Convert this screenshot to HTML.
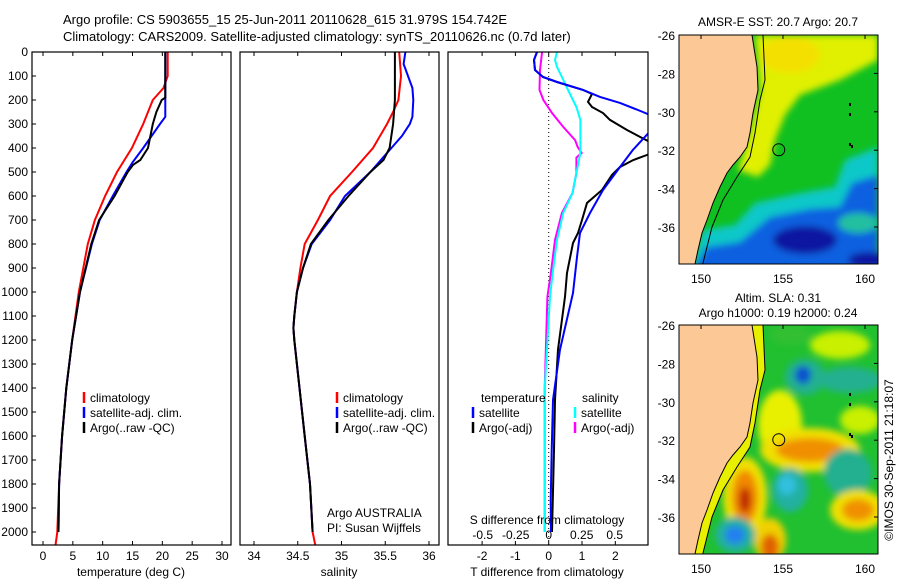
<!DOCTYPE html>
<html><head><meta charset="utf-8"><style>
html,body{margin:0;padding:0;background:#fff;width:900px;height:580px;overflow:hidden}
svg text{font-family:"Liberation Sans",sans-serif;font-size:12px;fill:#000}
</style></head><body>
<svg id="chart" width="900" height="580" viewBox="0 0 900 580" xmlns="http://www.w3.org/2000/svg">
<defs>
<clipPath id="c1"><rect x="32" y="52" width="199" height="493"/></clipPath>
<clipPath id="c2"><rect x="240" y="52" width="199" height="493"/></clipPath>
<clipPath id="c3"><rect x="448" y="52" width="200" height="493"/></clipPath>
<clipPath id="cm1"><rect x="679" y="35" width="199" height="229"/></clipPath>
<clipPath id="cm2"><rect x="679" y="325" width="199" height="229"/></clipPath>
<filter id="bl" x="-20%" y="-20%" width="140%" height="140%"><feGaussianBlur stdDeviation="3.5"/></filter>
</defs>
<text x="63" y="24" style="font-size:13px">Argo profile: CS 5903655_15 25-Jun-2011 20110628_615 31.979S 154.742E</text>
<text x="63" y="41" style="font-size:13px">Climatology: CARS2009. Satellite-adjusted climatology: synTS_20110626.nc (0.7d later)</text>
<g id="axes"></g>
<g id="maps"></g>
</svg>
<script>
// ---- data ----
const tClimDepth=[0,100,150,200,300,400,500,600,700,800,1000,1200,1400,1600,1800,2000,2055];
const tClim=[20.9,20.9,20.2,18.4,16.8,14.9,12.4,10.4,8.7,7.5,6.0,4.9,3.9,3.2,2.7,2.4,2.1];
const tSatDepth=[0,270,300,400,460,500,600,700,800,1000,1200,1400,1600,1800,2000];
const tSat=[20.5,20.5,19.6,16.8,15.0,14.0,11.7,9.5,8.2,6.2,4.9,3.9,3.2,2.7,2.6];
const tArgoDepth=[0,190,200,250,300,400,450,470,500,600,700,800,1000,1200,1400,1600,1800,2000];
const tArgo=[20.5,20.5,19.9,19.0,18.4,17.6,16.3,15.1,14.2,12.0,9.4,8.1,6.2,4.9,3.9,3.2,2.7,2.6];
const sClimDepth=[0,100,200,250,300,400,500,600,700,800,900,1000,1100,1150,1200,1400,1600,1800,2000,2055];
const sClim=[35.66,35.68,35.65,35.59,35.52,35.36,35.12,34.87,34.73,34.58,34.53,34.49,34.46,34.45,34.46,34.52,34.58,34.64,34.67,34.70];
const sSatDepth=[0,50,100,150,200,270,300,350,400,500,600,700,800,900,1000,1100,1150,1200,1400,1600,1800,2000];
const sSat=[35.73,35.71,35.76,35.81,35.82,35.81,35.78,35.69,35.57,35.33,35.04,34.87,34.66,34.56,34.49,34.46,34.45,34.46,34.52,34.58,34.64,34.67];
const sArgoDepth=[0,200,300,400,450,500,600,700,800,900,1000,1100,1150,1200,1400,1600,1800,2000];
const sArgo=[35.61,35.61,35.59,35.55,35.48,35.33,35.08,34.85,34.65,34.56,34.49,34.46,34.45,34.46,34.52,34.58,34.64,34.67];
const dTSatDepth=[0,33,75,104,125,158,187,212,250,290,337,408,479,575,671,754,854,1004,1240,1450,1660,1870,2000];
const dTSat=[-0.35,-0.44,-0.41,-0.17,0.25,1.03,1.54,2.14,2.83,3.5,3.0,2.53,2.14,1.63,1.24,0.94,0.85,0.73,0.34,0.13,0.09,0.06,0.07];
const dTArgoDepth=[0,33,75,104,125,158,175,208,229,254,283,325,358,379,405,429,450,479,512,575,629,700,754,796,921,1020,1240,1450,1660,2000];
const dTArgo=[-0.35,-0.44,-0.41,-0.17,0.25,1.03,1.3,1.18,1.3,1.63,1.84,2.35,2.8,3.1,3.4,2.95,2.54,2.14,1.9,1.6,1.15,1.0,0.88,0.73,0.55,0.49,0.28,0.19,0.16,0.1];
const dSSatDepth=[0,33,62,104,158,229,283,421,504,588,671,783,921,1020,1400,2000];
const dSSat=[0.063,0.048,0.063,0.10,0.146,0.21,0.24,0.24,0.21,0.18,0.11,0.063,0.03,0.01,-0.03,-0.03];
const dSArgoDepth=[0,75,158,200,254,312,367,396,421,440,504,588,671,783,921,1020,1400,2000];
const dSArgo=[-0.05,-0.066,-0.07,-0.04,0.025,0.11,0.20,0.22,0.25,0.21,0.21,0.18,0.10,0.048,0.017,-0.01,-0.03,-0.03];
const depthTicks=[0,100,200,300,400,500,600,700,800,900,1000,1100,1200,1300,1400,1500,1600,1700,1800,1900,2000];
const tTicks=[0,5,10,15,20,25,30];
const sTicks=[34,34.5,35,35.5,36];
const sTickLabels=["34","34.5","35","35.5","36"];
const dtTicks=[-2,-1,0,1,2];
const dsTicks=[-0.5,-0.25,0,0.25,0.5];
const dsTickLabels=["-0.5","-0.25","0","0.25","0.5"];

// ---- scales ----
const yD=d=>52+d*0.24;
const xT=t=>43+t*5.967;
const xS=s=>254+(s-34)*87.5;
const xDT=t=>548.7+t*33.3;
const xDS=s=>548.7+s*132;
const NS='http://www.w3.org/2000/svg';
const g=document.getElementById('axes');
function mk(tag,attrs,parent){const e=document.createElementNS(NS,tag);for(const k in attrs)e.setAttribute(k,attrs[k]);(parent||g).appendChild(e);return e;}
function line(xs,depths,vals,color,clip,w,name){
  const pts=vals.map((v,i)=>xs(v).toFixed(1)+','+yD(depths[i]).toFixed(1)).join(' ');
  const p=mk('polyline',{points:pts,fill:'none',stroke:color,'stroke-width':w||2,'clip-path':'url(#'+clip+')'});
  
  
}
function txt(x,y,s,anchor,name,extra){const t=mk('text',Object.assign({x:x,y:y,'text-anchor':anchor||'start'},extra||{}));t.textContent=s;
  
  return t;}
function frame(x,y,w,h,name){const r=mk('rect',{x:x,y:y,width:w,height:h,fill:'none',stroke:'#000','stroke-width':1.2});
  
  }

depthTicks.forEach(d=>{mk('line',{x1:32,x2:36,y1:yD(d),y2:yD(d),stroke:'#000'});txt(28,yD(d)+4,String(d),'end','depth-tick-label');});
tTicks.forEach(t=>{mk('line',{x1:xT(t),x2:xT(t),y1:52,y2:56,stroke:'#000'});mk('line',{x1:xT(t),x2:xT(t),y1:541,y2:545,stroke:'#000'});txt(xT(t),560,String(t),'middle','temperature-tick-label');});
sTicks.forEach((s,i)=>{mk('line',{x1:xS(s),x2:xS(s),y1:52,y2:56,stroke:'#000'});mk('line',{x1:xS(s),x2:xS(s),y1:541,y2:545,stroke:'#000'});txt(xS(s),560,sTickLabels[i],'middle','salinity-tick-label');});
dtTicks.forEach(t=>{mk('line',{x1:xDT(t),x2:xDT(t),y1:52,y2:56,stroke:'#000'});mk('line',{x1:xDT(t),x2:xDT(t),y1:541,y2:545,stroke:'#000'});txt(xDT(t),560,String(t),'middle','t-diff-tick-label');});
dsTicks.forEach((s,i)=>{txt(xDS(s),539,dsTickLabels[i],'middle','s-diff-tick-label');});
mk('line',{x1:548.7,x2:548.7,y1:52,y2:545,stroke:'#000','stroke-dasharray':'1,3'});

line(xT,tClimDepth,tClim,'#f00','c1',2,'temp-climatology-line');
line(xT,tSatDepth,tSat,'#00f','c1',2,'temp-satellite-line');
line(xT,tArgoDepth,tArgo,'#000','c1',2,'temp-argo-line');
line(xS,sClimDepth,sClim,'#f00','c2',2,'sal-climatology-line');
line(xS,sSatDepth,sSat,'#00f','c2',2,'sal-satellite-line');
line(xS,sArgoDepth,sArgo,'#000','c2',2,'sal-argo-line');
line(xDS,dSArgoDepth,dSArgo,'#f0f','c3',2,'s-diff-argo-line');
line(xDS,dSSatDepth,dSSat,'#0ff','c3',2,'s-diff-satellite-line');
line(xDT,dTArgoDepth,dTArgo,'#000','c3',2,'t-diff-argo-line');
line(xDT,dTSatDepth,dTSat,'#00f','c3',2,'t-diff-satellite-line');

frame(32,52,199,493,'temperature-panel');
frame(240,52,199,493,'salinity-panel');
frame(448,52,200,493,'difference-panel');
txt(131,576,'temperature (deg C)','middle','temperature-axis-title');
txt(339,576,'salinity','middle','salinity-axis-title');
txt(547,576,'T difference from climatology','middle','t-diff-axis-title');
txt(547,524,'S difference from climatology','middle','s-diff-axis-title');
txt(327,517,'Argo AUSTRALIA','start','argo-australia-label');
txt(327,532,'PI: Susan Wijffels','start','pi-label');

function legend(x,y,items,name){items.forEach((it,i)=>{const yy=y+i*15;
  mk('line',{x1:x,x2:x,y1:yy-10,y2:yy+1,stroke:it[1],'stroke-width':2.5});
  txt(x+6,yy,it[0],'start',name);});}
legend(84,402,[['climatology','#f00'],['satellite-adj. clim.','#00f'],['Argo(..raw -QC)','#000']],'temp-legend-entry');
legend(337,402,[['climatology','#f00'],['satellite-adj. clim.','#00f'],['Argo(..raw -QC)','#000']],'sal-legend-entry');
txt(481,402,'temperature','start','t-legend-heading');
txt(582,402,'salinity','start','s-legend-heading');
legend(473,417,[['satellite','#00f'],['Argo(-adj)','#000']],'t-legend-entry');
legend(575,417,[['satellite','#0ff'],['Argo(-adj)','#f0f']],'s-legend-entry');

// ---- maps ----
const mg=document.getElementById('maps');
const mX=lon=>701+(lon-150)*16.4;
const latTicks=[-26,-28,-30,-32,-34,-36];
const lonTicks=[150,155,160];
function drawMap(oy,clip,blobs,base,name,strip){
  const grp=mk('g',{},mg);
  
  
  const inner=mk('g',{'clip-path':'url(#'+clip+')'},grp);
  mk('rect',{x:679,y:oy,width:199,height:229,fill:base},inner);
  const bg=mk('g',{filter:'url(#bl)'},inner);
  blobs.forEach(b=>{ if(b[0]==='e'){const e=b[1]; mk('ellipse',{cx:e[0],cy:e[1]+oy,rx:e[2],ry:e[3],fill:e[4]},bg);}
    else mk('polygon',{points:b[1].map(p=>p[0]+','+(p[1]+oy)).join(' '),fill:b[2]},bg);});
  const coast=[[752,0],[757,32],[758,55],[753,78],[750,98],[747,112],[740,122],[733,130],[727,138],[720,152],[713,168],[707,185],[702,198],[698,215],[695,229]];
  const cont=[[763,0],[765,45],[760,65],[755,98],[750,122],[737,142],[723,165],[712,192],[707,212],[702,232]];
  if(strip){mk('polygon',{points:coast.map(p=>p[0]+','+(p[1]+oy)).concat(cont.slice().reverse().map(p=>p[0]+','+(p[1]+oy))).join(' '),fill:strip},inner);}
  mk('polygon',{points:'679,'+oy+' '+coast.map(p=>p[0]+','+(p[1]+oy)).join(' ')+' 679,'+(oy+229),fill:'#fcc896'},inner);
  mk('polyline',{points:coast.map(p=>p[0]+','+(p[1]+oy)).join(' '),fill:'none',stroke:'#000','stroke-width':1},inner);
  mk('polyline',{points:cont.map(p=>p[0]+','+(p[1]+oy)).join(' '),fill:'none',stroke:'#000','stroke-width':1},inner);
  [[849,68],[849,78],[849,108],[851,110]].forEach(p=>mk('rect',{x:p[0],y:p[1]+oy,width:2,height:3,fill:'#000'},inner));
  mk('circle',{cx:mX(154.742),cy:oy+(-26+31.979)*19.2,r:6,fill:'none',stroke:'#000','stroke-width':1},grp);
  mk('rect',{x:679,y:oy,width:199,height:229,fill:'none',stroke:'#000','stroke-width':1},grp);
  latTicks.forEach(l=>{const y=oy+(-26-l)*19.2;mk('line',{x1:874,x2:878,y1:y,y2:y,stroke:'#000'},grp);
    const t=mk('text',{x:675,y:y+5,'text-anchor':'end'},grp);t.textContent=String(l);
    
    });
  lonTicks.forEach(l=>{const x=mX(l);mk('line',{x1:x,x2:x,y1:oy,y2:oy+4,stroke:'#000'},grp);
    const t=mk('text',{x:x,y:oy+248,'text-anchor':'middle'},grp);t.textContent=String(l);
    
    });
}
const sstBlobs=[
 ['p',[[755,0],[878,0],[878,25],[840,45],[800,60],[785,80],[775,105],[770,130],[758,142],[738,135],[750,95],[760,55]],'#e0f000'],
 ['e',[790,20,30,18,'#f4e000']],
 ['p',[[755,168],[800,158],[835,152],[845,125],[878,112],[878,240],[690,240],[703,195],[735,190]],'#10c8c8'],
 ['p',[[770,182],[810,174],[840,172],[852,148],[878,140],[878,240],[690,240],[706,212],[740,207]],'#1060e0'],
 ['e',[805,205,32,14,'#0818a0']],
 ['e',[868,225,20,8,'#0818a0']],
 ['e',[858,188,20,10,'#20c0a0']],
 ['e',[740,50,10,30,'#10c020']]
];
drawMap(35,'cm1',sstBlobs,'#10c020','sst-map',null);
const slaBlobs=[
 ['e',[840,20,30,14,'#c8f000']],
 ['e',[790,10,20,10,'#30c030']],
 ['e',[780,100,22,35,'#e8f000']],
 ['e',[810,125,50,22,'#f0e000']],
 ['e',[810,125,34,12,'#f09000']],
 ['e',[805,52,20,18,'#20b090']],
 ['e',[850,55,32,13,'#20b090']],
 ['e',[803,50,8,9,'#1050d0']],
 ['e',[848,148,24,24,'#20b090']],
 ['e',[790,165,18,22,'#20b0a0']],
 ['e',[787,160,9,10,'#30c0e0']],
 ['e',[745,172,22,40,'#f0e000']],
 ['e',[745,172,13,27,'#f08800']],
 ['e',[745,175,6,13,'#c02800']],
 ['e',[858,185,28,20,'#f0e000']],
 ['e',[858,185,16,11,'#f09000']],
 ['e',[770,215,16,22,'#f0d000']],
 ['e',[770,222,9,13,'#e06000']],
 ['e',[735,210,20,18,'#20b0a0']],
 ['e',[735,210,10,9,'#2080f0']],
 ['e',[860,95,20,14,'#c8f000']]
];
drawMap(325,'cm2',slaBlobs,'#20c030','sla-map','#e8f000');
txt(778,26,'AMSR-E SST: 20.7 Argo: 20.7','middle','sst-map-title');
txt(778,302,'Altim. SLA: 0.31','middle','sla-map-title-1');
txt(778,317,'Argo h1000: 0.19 h2000: 0.24','middle','sla-map-title-2');
txt(0,0,'©IMOS 30-Sep-2011 21:18:07','middle','imos-timestamp',{transform:'translate(893,460) rotate(-90)'});
</script>
</body></html>
